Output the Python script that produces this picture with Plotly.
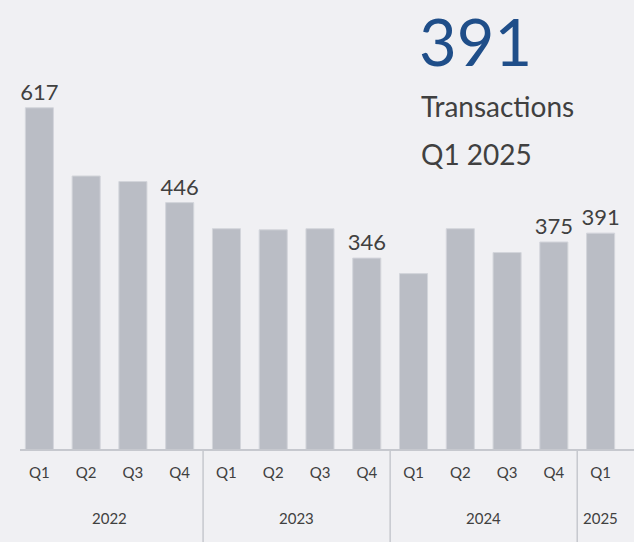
import plotly.graph_objects as go

quarters = ["Q1", "Q2", "Q3", "Q4", "Q1", "Q2", "Q3", "Q4", "Q1", "Q2", "Q3", "Q4", "Q1"]
years = ["2022"] * 4 + ["2023"] * 4 + ["2024"] * 4 + ["2025"]
transactions = [617, 494, 484, 446, 399, 397, 399, 346, 318, 399, 356, 375, 391]
labelled = [617, None, None, 446, None, None, None, 346, None, None, None, 375, 391]

headline_value = "391"
headline_lines = ["Transactions", "Q1 2025"]

TEXT = "#404040"
BAR = "#babdc5"
BG = "#f0f0f3"
FONT = "Lato, Noto Sans, sans-serif"

W, H = 634, 542
L, R, T, B = 16, 10, 34, 92
PW, PH = W - L - R, H - T - B


def px(xp):
    return (xp - L) / PW


def py(yp):
    return (H - B - yp) / PH


idx = list(range(len(transactions)))

fig = go.Figure()
fig.add_trace(go.Bar(
    x=idx, y=transactions,
    marker=dict(color=BAR, line=dict(color="#d3d5db", width=1)),
    text=[str(v) if v else "" for v in labelled],
    textposition="outside", cliponaxis=False, constraintext="none",
    textfont=dict(size=22, color=TEXT, family=FONT),
    hoverinfo="skip",
))

shapes = [dict(type="line", xref="paper", yref="paper", x0=px(20), x1=px(634), y0=0, y1=0,
               line=dict(color="#c6c8ce", width=2))]
annotations = []
groups = []
for i, yr in enumerate(years):
    if not groups or groups[-1][0] != yr:
        groups.append([yr, []])
    groups[-1][1].append(i)
for n, (yr, members) in enumerate(groups):
    annotations.append(dict(x=sum(members) / len(members), y=0, xref="x", yref="paper",
                            text=yr, showarrow=False, yanchor="middle", yshift=-68,
                            font=dict(size=15, color=TEXT, family=FONT)))
    if n > 0:
        xs = members[0] - 0.5
        shapes.append(dict(type="line", xref="x", yref="paper", x0=xs, x1=xs,
                           y0=0, y1=-B / PH, line=dict(color="#c6c8ce", width=1.5)))

# big headline number; box is taller than the glyphs so keep it inside the page
annotations.append(dict(x=px(417), y=py(0), xref="paper", yref="paper", text=headline_value,
                        showarrow=False, xanchor="left", yanchor="top", yshift=0,
                        font=dict(size=65, color="#1f4e89", family=FONT)))
for k, line in enumerate(headline_lines):
    annotations.append(dict(x=px(419), y=py(106 + 48 * k), xref="paper", yref="paper", text=line,
                            showarrow=False, xanchor="left", yanchor="middle",
                            font=dict(size=28, color=TEXT, family=FONT)))

fig.update_layout(
    width=W, height=H,
    margin=dict(l=L, r=R, t=T, b=B),
    paper_bgcolor=BG, plot_bgcolor=BG,
    bargap=0.4, showlegend=False,
    xaxis=dict(range=[-0.5, len(idx) - 0.5], tickvals=idx, ticktext=quarters,
               showgrid=False, zeroline=False, showline=False, ticks="",
               ticklabelstandoff=12, tickfont=dict(size=15, color=TEXT, family=FONT)),
    yaxis=dict(range=[0, 750], visible=False),
    shapes=shapes, annotations=annotations,
)

fig.write_html("out.html", config={"displayModeBar": False},
               post_script="document.body.style.margin='0';")
